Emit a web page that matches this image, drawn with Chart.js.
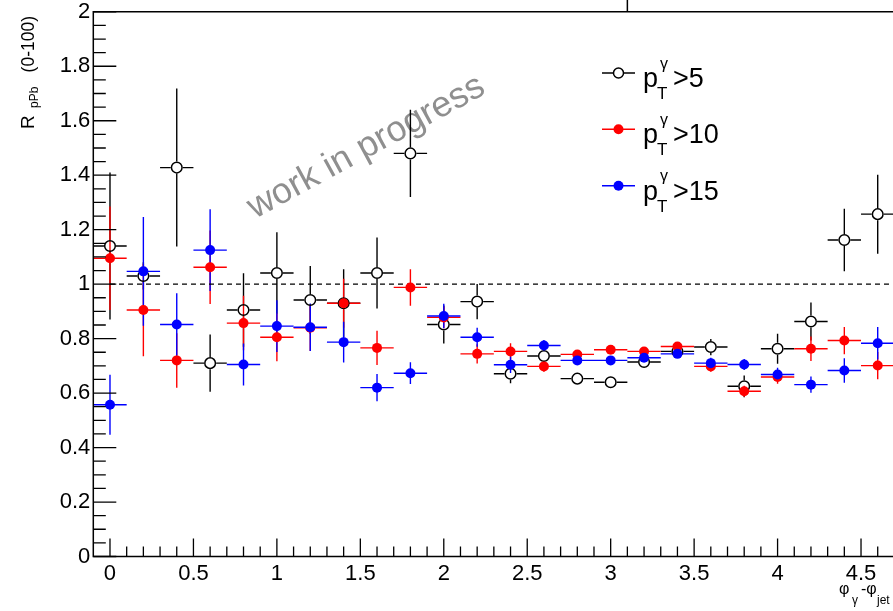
<!DOCTYPE html>
<html><head><meta charset="utf-8">
<script src="https://cdn.jsdelivr.net/npm/chart.js@4.4.1/dist/chart.umd.min.js"></script>
<style>
html,body{margin:0;padding:0;background:#fff;overflow:hidden;width:893px;height:611px}
#wrap{position:absolute;left:0;top:0;width:905px;height:611px}
</style>
</head><body><div id="wrap"><canvas id="c" width="905" height="611"></canvas></div>
<script>
// ---- data ----
const xCenters = [0,0.2,0.4,0.6,0.8,1.0,1.2,1.4,1.6,1.8,2.0,2.2,2.4,2.6,2.8,3.0,3.2,3.4,3.6,3.8,4.0,4.2,4.4,4.6];
const binHalfWidth = 0.1;
const pt5Values = [1.14,1.03,1.428,0.71,0.905,1.041,0.942,0.93,1.041,1.48,0.852,0.936,0.671,0.736,0.653,0.640,0.714,0.753,0.769,0.625,0.763,0.863,1.162,1.257];
const pt5Errors = [0.27,0.05,0.29,0.105,0.135,0.15,0.125,0.125,0.13,0.16,0.07,0.065,0.035,0.03,0.015,0.012,0.015,0.02,0.03,0.04,0.055,0.07,0.115,0.145];
const pt10Values = [1.095,0.905,0.72,1.062,0.857,0.805,0.84,0.93,0.766,0.988,0.878,0.744,0.753,0.698,0.742,0.759,0.753,0.771,0.698,0.607,0.659,0.763,0.793,0.701];
const pt10Errors = [0.19,0.17,0.10,0.135,0.10,0.088,0.085,0.09,0.063,0.067,0.04,0.035,0.03,0.02,0.015,0.015,0.015,0.015,0.02,0.02,0.025,0.045,0.05,0.05];
const pt15Values = [0.557,1.047,0.852,1.125,0.705,0.846,0.842,0.787,0.62,0.673,0.883,0.805,0.704,0.775,0.72,0.72,0.73,0.744,0.71,0.705,0.668,0.631,0.683,0.783];
const pt15Errors = [0.11,0.2,0.115,0.15,0.077,0.095,0.087,0.075,0.05,0.04,0.045,0.035,0.03,0.02,0.015,0.015,0.015,0.015,0.02,0.02,0.025,0.03,0.045,0.06];
const legendCuts = ['5','10','15'];
const xTicks = [0,0.5,1,1.5,2,2.5,3,3.5,4,4.5];
const xTickLabels = ['0','0.5','1','1.5','2','2.5','3','3.5','4','4.5'];
const yTicks = [0,0.2,0.4,0.6,0.8,1,1.2,1.4,1.6,1.8,2];
const yTickLabels = ['0','0.2','0.4','0.6','0.8','1','1.2','1.4','1.6','1.8','2'];
const refLineX = [0, 4.8];
const refLineY = 1;

const FONT = '"Liberation Sans", Arial, Helvetica, sans-serif';
const pts = (vals) => vals.map((v,i)=>({x:xCenters[i], y:v}));

const series = [
  {label:'pT>5', values:pt5Values, errors:pt5Errors, color:'#000000', open:true},
  {label:'pT>10', values:pt10Values, errors:pt10Errors, color:'#ff0000', open:false},
  {label:'pT>15', values:pt15Values, errors:pt15Errors, color:'#0000ff', open:false}
];

const rootPlugin = {
  id: 'rootStyle',
  beforeDatasetsDraw(chart) {
    const ctx = chart.ctx, xs = chart.scales.x, ys = chart.scales.y, ca = chart.chartArea;
    // watermark
    ctx.save();
    ctx.translate(255, 219);
    ctx.rotate(-28.5 * Math.PI / 180);
    ctx.font = '36px ' + FONT;
    ctx.fillStyle = '#8f8f8f';
    ctx.textBaseline = 'alphabetic';
    ctx.fillText('work in progress', 0, 0);
    ctx.restore();
    // error bars
    ctx.save();
    ctx.beginPath(); ctx.rect(ca.left, ca.top, ca.right - ca.left, ca.bottom - ca.top); ctx.clip();
    ctx.lineWidth = 1.4;
    series.forEach(s => {
      ctx.strokeStyle = s.color;
      const r = s.open ? 6 : 4;
      s.values.forEach((v, i) => {
        const x = xCenters[i];
        const px = xs.getPixelForValue(x), py = ys.getPixelForValue(v);
        const x1 = xs.getPixelForValue(x - binHalfWidth), x2 = xs.getPixelForValue(x + binHalfWidth);
        const yt = ys.getPixelForValue(v + s.errors[i]), yb = ys.getPixelForValue(v - s.errors[i]);
        ctx.beginPath();
        ctx.moveTo(x1, py); ctx.lineTo(px - r, py);
        ctx.moveTo(px + r, py); ctx.lineTo(x2, py);
        if (yt < py - r) { ctx.moveTo(px, yt); ctx.lineTo(px, py - r); }
        if (yb > py + r) { ctx.moveTo(px, py + r); ctx.lineTo(px, yb); }
        ctx.stroke();
      });
    });
    ctx.restore();
  },
  afterDraw(chart) {
    const ctx = chart.ctx, xs = chart.scales.x, ys = chart.scales.y, ca = chart.chartArea;
    ctx.save();
    ctx.strokeStyle = '#000';
    ctx.lineWidth = 1.5;
    // frame
    ctx.beginPath();
    ctx.moveTo(ca.right + 20, ca.top); ctx.lineTo(ca.left, ca.top); ctx.lineTo(ca.left, ca.bottom); ctx.lineTo(ca.right + 20, ca.bottom);
    ctx.stroke();
    // small line above frame
    const tx = xs.getPixelForValue(3.1);
    ctx.beginPath(); ctx.moveTo(tx, 0); ctx.lineTo(tx, ca.top); ctx.stroke();
    // x ticks (inside)
    ctx.lineWidth = 1.3;
    ctx.beginPath();
    for (let k = 0; k <= 47; k++) {
      const v = k / 10;
      const px = xs.getPixelForValue(v);
      const major = (k % 5 === 0);
      ctx.moveTo(px, ca.bottom); ctx.lineTo(px, ca.bottom - (major ? 18 : 10));
    }
    // y ticks
    for (let k = 0; k <= 40; k++) {
      const v = k / 20;
      const py = ys.getPixelForValue(v);
      const major = (k % 4 === 0);
      ctx.moveTo(ca.left, py); ctx.lineTo(ca.left + (major ? 23 : 12.5), py);
    }
    ctx.stroke();

    // y title
    ctx.save();
    ctx.translate(34, 0);
    ctx.rotate(-Math.PI / 2);
    ctx.fillStyle = '#000';
    ctx.textBaseline = 'alphabetic';
    ctx.textAlign = 'left';
    ctx.font = '19px ' + FONT;
    ctx.fillText('R', -129, 0);
    ctx.font = '12px ' + FONT;
    ctx.fillText('pPb', -108, 3.5);
    ctx.font = '17.5px ' + FONT;
    ctx.textAlign = 'right';
    ctx.fillText('(0-100)', -16, 0);
    ctx.restore();

    // x title
    ctx.fillStyle = '#000';
    ctx.textAlign = 'left';
    ctx.textBaseline = 'alphabetic';
    ctx.font = '16px ' + FONT;
    ctx.fillText('\u03C6', 839, 594);
    ctx.font = '12px ' + FONT;
    ctx.fillText('\u03B3', 852, 604);
    ctx.font = '16px ' + FONT;
    ctx.fillText('-\u03C6', 861, 594);
    ctx.font = '12px ' + FONT;
    ctx.fillText('jet', 877, 604);

    // legend
    const rows = [73, 129.3, 185.7];
    series.forEach((s, i) => {
      const cy = rows[i];
      ctx.strokeStyle = s.color;
      ctx.lineWidth = 1.4;
      ctx.beginPath(); ctx.moveTo(602, cy); ctx.lineTo(635, cy); ctx.stroke();
      ctx.beginPath(); ctx.arc(618.5, cy, 5, 0, Math.PI * 2);
      if (s.open) { ctx.fillStyle = '#fff'; ctx.fill(); ctx.lineWidth = 1.5; ctx.strokeStyle = '#000'; ctx.stroke(); }
      else { ctx.fillStyle = s.color; ctx.fill(); }
      const b = cy + 14;
      ctx.fillStyle = '#000';
      ctx.font = '27px ' + FONT;
      ctx.fillText('p', 643, b);
      const pw = ctx.measureText('p').width;
      ctx.font = '16px ' + FONT;
      ctx.fillText('\u03B3', 643 + pw + 2, b - 18.5);
      ctx.font = '17px ' + FONT;
      ctx.fillText('T', 643 + pw - 1, b + 12);
      ctx.font = '27px ' + FONT;
      ctx.fillText('>' + legendCuts[i], 673, b);
    });
    ctx.restore();
  }
};

const datasets = series.map((s, i) => ({
  label: s.label,
  data: pts(s.values),
  showLine: false,
  pointStyle: 'circle',
  pointRadius: s.open ? 5.3 : 5,
  pointHoverRadius: s.open ? 5.3 : 5,
  pointBorderWidth: s.open ? 1.5 : 0,
  borderColor: s.color,
  backgroundColor: s.open ? 'rgba(255,255,255,0)' : s.color,
  order: 3 - i
}));
datasets.push({
  type: 'line',
  label: 'ref',
  data: refLineX.map(x => ({x, y: refLineY})),
  borderColor: '#000',
  borderWidth: 1.2,
  borderDash: [5, 4],
  pointRadius: 0,
  fill: false,
  order: 10
});

new Chart(document.getElementById('c'), {
  type: 'scatter',
  data: { datasets },
  options: {
    responsive: false,
    animation: false,
    devicePixelRatio: 1,
    layout: { padding: { left: 0, top: 10.5, right: 10.6, bottom: 0 } },
    plugins: { legend: { display: false }, tooltip: { enabled: false } },
    events: [],
    scales: {
      x: {
        type: 'linear', min: -0.1, max: 4.7,
        grid: { display: false, drawTicks: false },
        border: { display: false },
        afterBuildTicks: s => { s.ticks = xTicks.map(v => ({ value: v })); },
        afterFit: s => { s.height = 54.5; },
        ticks: {
          autoSkip: false, maxRotation: 0, padding: 4,
          color: '#000', font: { family: FONT, size: 22 },
          callback: (v, i) => xTickLabels[i]
        }
      },
      y: {
        type: 'linear', min: 0, max: 2,
        grid: { display: false, drawTicks: false },
        border: { display: false },
        afterBuildTicks: s => { s.ticks = yTicks.map(v => ({ value: v })); },
        afterFit: s => { s.width = 93.3; },
        ticks: {
          autoSkip: false, padding: 3,
          color: '#000', font: { family: FONT, size: 22, lineHeight: 0.8 },
          callback: (v, i) => yTickLabels[i]
        }
      }
    }
  },
  plugins: [rootPlugin]
});
</script>
</body></html>
